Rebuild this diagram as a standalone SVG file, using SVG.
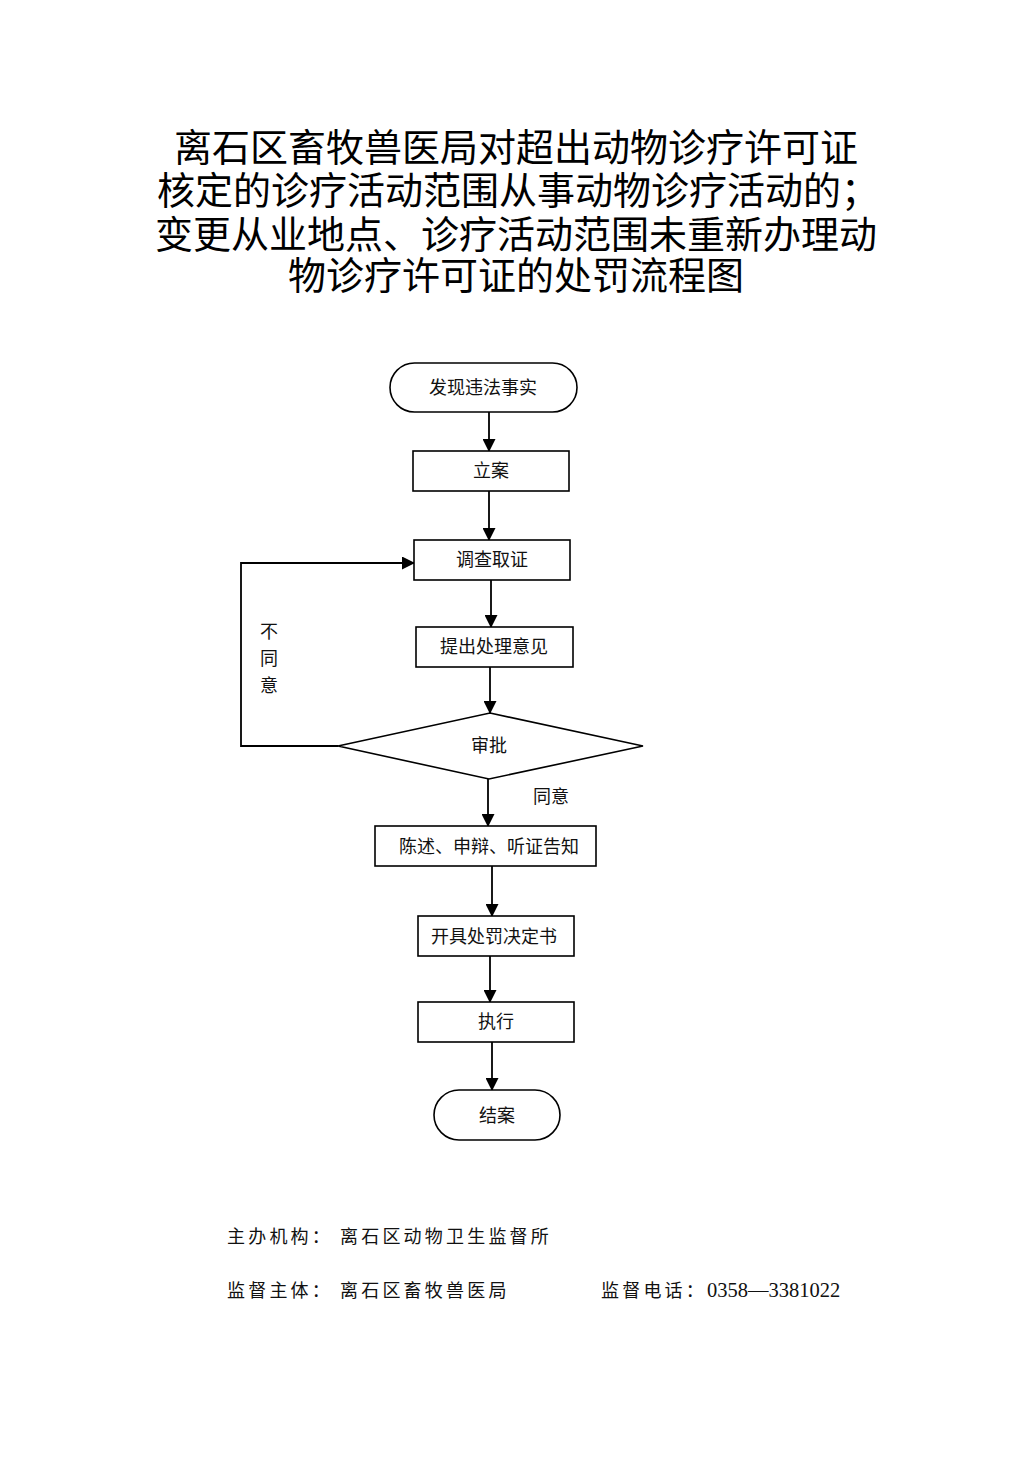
<svg xmlns="http://www.w3.org/2000/svg" width="1033" height="1461" viewBox="0 0 1033 1461">
<style>
.t{font-family:"Noto Sans CJK SC","Noto Sans CJK JP",sans-serif;font-size:38px;fill:#000;text-anchor:middle}
.n{fill:#fff;stroke:#000;stroke-width:1.6}
.l{font-family:"Liberation Serif","Noto Sans CJK SC",serif;font-size:18px;fill:#111;text-anchor:middle;dominant-baseline:central}
.c{fill:none;stroke:#000;stroke-width:1.8}
.f{font-family:"Liberation Serif","Noto Sans CJK SC",serif;font-size:18px;fill:#111;letter-spacing:3.2px}
</style>
<defs>
<marker id="a" markerWidth="13" markerHeight="13" refX="12" refY="6.5" orient="auto" markerUnits="userSpaceOnUse">
<path d="M0,0 L13,6.5 L0,13 Z" fill="#000"/>
</marker>
</defs>
<rect width="1033" height="1461" fill="#fff"/>
<g id="title">
<text class="t" x="516" y="161">离石区畜牧兽医局对超出动物诊疗许可证</text>
<text class="t" x="518" y="204">核定的诊疗活动范围从事动物诊疗活动的；</text>
<text class="t" x="516" y="248">变更从业地点、诊疗活动范围未重新办理动</text>
<text class="t" x="516" y="289">物诊疗许可证的处罚流程图</text>
</g>
<g id="connectors">
<line class="c" x1="489" y1="412" x2="489" y2="451" marker-end="url(#a)"/>
<line class="c" x1="489" y1="491" x2="489" y2="540" marker-end="url(#a)"/>
<line class="c" x1="491" y1="580" x2="491" y2="627" marker-end="url(#a)"/>
<line class="c" x1="490" y1="667" x2="490" y2="713" marker-end="url(#a)"/>
<polyline class="c" points="338,746 241,746 241,563 414,563" marker-end="url(#a)"/>
<line class="c" x1="488" y1="779" x2="488" y2="826" marker-end="url(#a)"/>
<line class="c" x1="492" y1="866" x2="492" y2="916" marker-end="url(#a)"/>
<line class="c" x1="490" y1="956" x2="490" y2="1002" marker-end="url(#a)"/>
<line class="c" x1="492" y1="1042" x2="492" y2="1090" marker-end="url(#a)"/>
<text class="l" x="269" y="632">不</text>
<text class="l" x="269" y="659">同</text>
<text class="l" x="269" y="686">意</text>
<text class="l" x="551" y="797">同意</text>
</g>
<g id="start"><rect class="n" x="390" y="363" width="187" height="49" rx="24.5"/><text class="l" x="483" y="388">发现违法事实</text></g>
<g id="lian"><rect class="n" x="413" y="451" width="156" height="40"/><text class="l" x="491" y="471">立案</text></g>
<g id="diaocha"><rect class="n" x="414" y="540" width="156" height="40"/><text class="l" x="492" y="560">调查取证</text></g>
<g id="tichu"><rect class="n" x="416" y="627" width="157" height="40"/><text class="l" x="494" y="647">提出处理意见</text></g>
<g id="shenpi"><polygon class="n" points="490,713 643,746 489,779 338,746"/><text class="l" x="489" y="746">审批</text></g>
<g id="chenshu"><rect class="n" x="375" y="826" width="221" height="40"/><text class="l" x="489" y="847">陈述、申辩、听证告知</text></g>
<g id="kaiju"><rect class="n" x="418" y="916" width="156" height="40"/><text class="l" x="494" y="937">开具处罚决定书</text></g>
<g id="zhixing"><rect class="n" x="418" y="1002" width="156" height="40"/><text class="l" x="496" y="1022">执行</text></g>
<g id="jiean"><rect class="n" x="434" y="1090" width="126" height="50" rx="25"/><text class="l" x="497" y="1116">结案</text></g>
<g id="footer">
<text class="f" x="227" y="1243">主办机构：</text>
<text class="f" x="340" y="1243">离石区动物卫生监督所</text>
<text class="f" x="227" y="1297">监督主体：</text>
<text class="f" x="340" y="1297">离石区畜牧兽医局</text>
<text class="f" x="601" y="1297" letter-spacing="2.5">监督电话：<tspan letter-spacing="0" font-size="20.5">0358—3381022</tspan></text>
</g>
</svg>
